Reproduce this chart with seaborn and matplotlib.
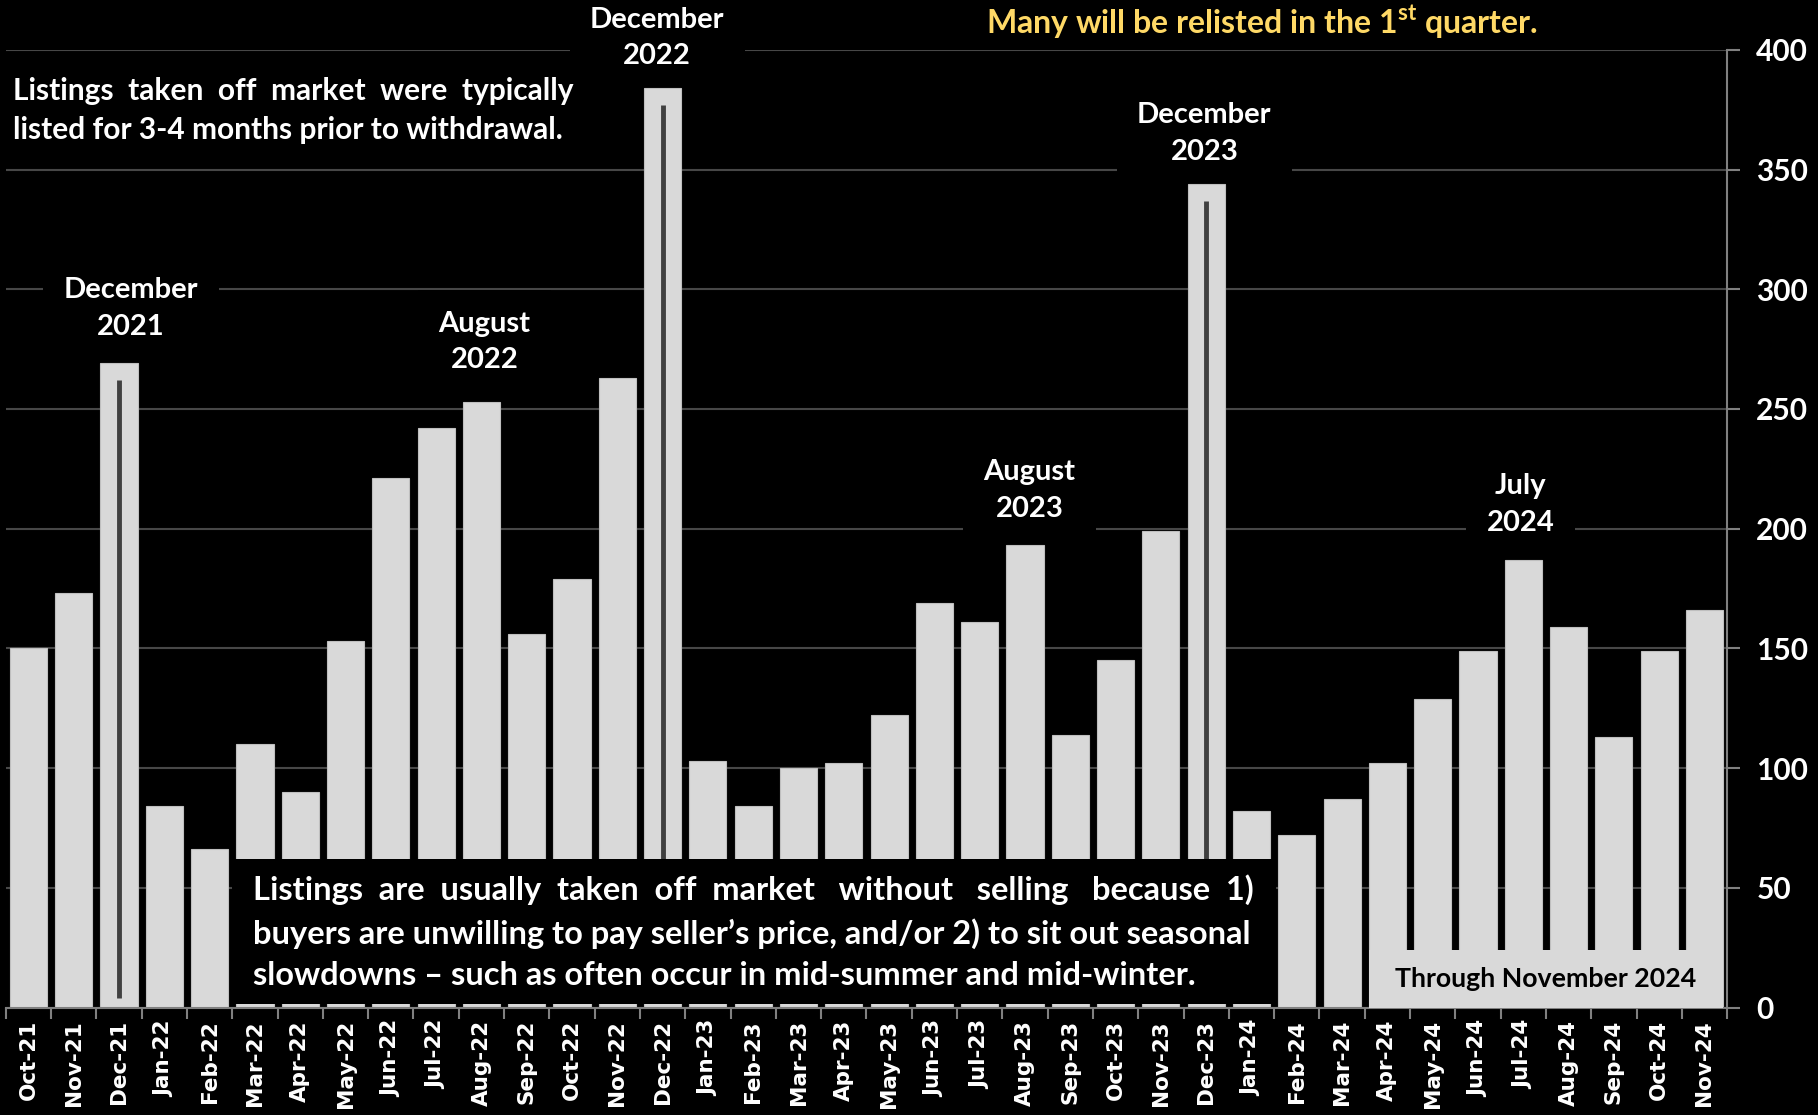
import matplotlib
matplotlib.use("Agg")
import matplotlib.pyplot as plt
import seaborn as sns
import pandas as pd
import numpy as np
from matplotlib.patches import Rectangle

# monthly listings taken off market (withdrawn)
months = ["Oct-21", "Nov-21", "Dec-21",
          "Jan-22", "Feb-22", "Mar-22", "Apr-22", "May-22", "Jun-22",
          "Jul-22", "Aug-22", "Sep-22", "Oct-22", "Nov-22", "Dec-22",
          "Jan-23", "Feb-23", "Mar-23", "Apr-23", "May-23", "Jun-23",
          "Jul-23", "Aug-23", "Sep-23", "Oct-23", "Nov-23", "Dec-23",
          "Jan-24", "Feb-24", "Mar-24", "Apr-24", "May-24", "Jun-24",
          "Jul-24", "Aug-24", "Sep-24", "Oct-24", "Nov-24"]
withdrawn = [150, 173, 269,
             84, 66, 110, 90, 153, 221,
             242, 253, 156, 179, 263, 384,
             103, 84, 100, 102, 122, 169,
             161, 193, 114, 145, 199, 344,
             82, 72, 87, 102, 129, 149,
             187, 159, 113, 149, 166]

peak_months = ["Dec-21", "Dec-22", "Dec-23"]

# peak labels and where they sit (category index, y value)
peak_labels = ["December\n2021", "August\n2022", "December\n2022",
               "August\n2023", "December\n2023", "July\n2024"]
label_x = [2.26, 10.07, 13.88, 22.1, 25.96, 32.94]
label_y = [292, 278, 405, 216, 365, 210]

bar_color = "#d9d9d9"
grid_color = "#474747"
axis_color = "#808080"

sns.set_theme(style="white", rc={"axes.facecolor": "black", "figure.facecolor": "black"})
plt.rcParams["font.family"] = ["Lato", "DejaVu Sans"]
plt.rcParams["mathtext.fontset"] = "custom"
plt.rcParams["mathtext.rm"] = "Lato:bold"

fig = plt.figure(figsize=(18.18, 11.15), dpi=100)
ax = fig.add_axes([0.0032, 0.0964, 0.9468, 0.8589])

df = pd.DataFrame({"month": months, "count": withdrawn})
sns.barplot(data=df, x="month", y="count", color=bar_color, saturation=1,
            width=0.82, ax=ax, zorder=2, edgecolor="#bfbfbf", linewidth=0.8)

# dark line inside the December peaks
for m in peak_months:
    i = months.index(m)
    ax.vlines(i, 4, withdrawn[i] - 7, color="#404040", lw=3.5, zorder=3)

ax.set_xlim(-0.5, len(months) - 0.5)
ax.set_ylim(0, 400)
ax.set_xlabel("")
ax.set_ylabel("")
ax.set_axisbelow(True)
ax.grid(axis="y", color=grid_color, lw=1.5)
ax.grid(axis="x", visible=False)

ax.yaxis.tick_right()
ax.set_yticks(range(0, 401, 50))
for s in ["left", "top"]:
    ax.spines[s].set_visible(False)
for s in ["right", "bottom"]:
    ax.spines[s].set_color(axis_color)
    ax.spines[s].set_linewidth(1.5)

ax.tick_params(axis="y", which="major", right=True, length=9, width=1.5,
               color=axis_color, labelcolor="white", labelsize=21.5, pad=12)
for lab in ax.get_yticklabels():
    lab.set_fontweight("bold")

ax.tick_params(axis="x", which="major", length=0, labelrotation=90,
               labelcolor="white", labelsize=15.5, pad=9)
ax.set_xticks(np.arange(-0.5, len(months), 1), minor=True)
ax.tick_params(axis="x", which="minor", bottom=True, length=8, width=1.5, color=axis_color)
for lab in ax.get_xticklabels():
    lab.set_fontfamily("DejaVu Sans")
    lab.set_fontweight("bold")

# peak labels
for lab, x, y in zip(peak_labels, label_x, label_y):
    ax.text(x, y, lab, ha="center", va="center", color="white", fontsize=21,
            fontweight="bold", linespacing=1.5, zorder=1, clip_on=False,
            bbox=dict(boxstyle="square,pad=0.7", fc="black", ec="none"))

# "Through November 2024" box
i0 = months.index("Apr-24")
i1 = months.index("Nov-24")
ax.add_patch(Rectangle((i0 - 0.41, 0), (i1 + 0.41) - (i0 - 0.41), 24,
                       fc=bar_color, ec="none", zorder=4))
ax.text((i0 + i1) / 2, 12, "Through November 2024", ha="center", va="center",
        color="black", fontsize=19.3, fontweight="bold", zorder=5)

# top-left note
fig.text(0.007, 0.901,
         "Listings  taken  off  market  were  typically\nlisted for 3-4 months prior to withdrawal.",
         ha="left", va="center", color="white", fontsize=21.5, fontweight="bold",
         linespacing=1.5, zorder=6)

# bottom note on black box
fig.add_artist(Rectangle((0.1276, 0.0996), 0.574, 0.130, transform=fig.transFigure,
                         fc="black", ec="none", zorder=5))
fig.text(0.139, 0.164,
         "Listings  are  usually  taken  off  market   without   selling   because  1)\n"
         "buyers are unwilling to pay seller\u2019s price, and/or 2) to sit out seasonal\n"
         "slowdowns \u2013 such as often occur in mid-summer and mid-winter.",
         ha="left", va="center", color="white", fontsize=23.5, fontweight="bold",
         linespacing=1.5, zorder=6)

# yellow note at top
fig.text(0.694, 0.980, "Many will be relisted in the 1$^{\\mathrm{st}}$ quarter.",
         ha="center", va="center", color="#ffd966", fontsize=23, fontweight="bold",
         zorder=6)

fig.savefig("out.png", dpi=100, facecolor="black")
